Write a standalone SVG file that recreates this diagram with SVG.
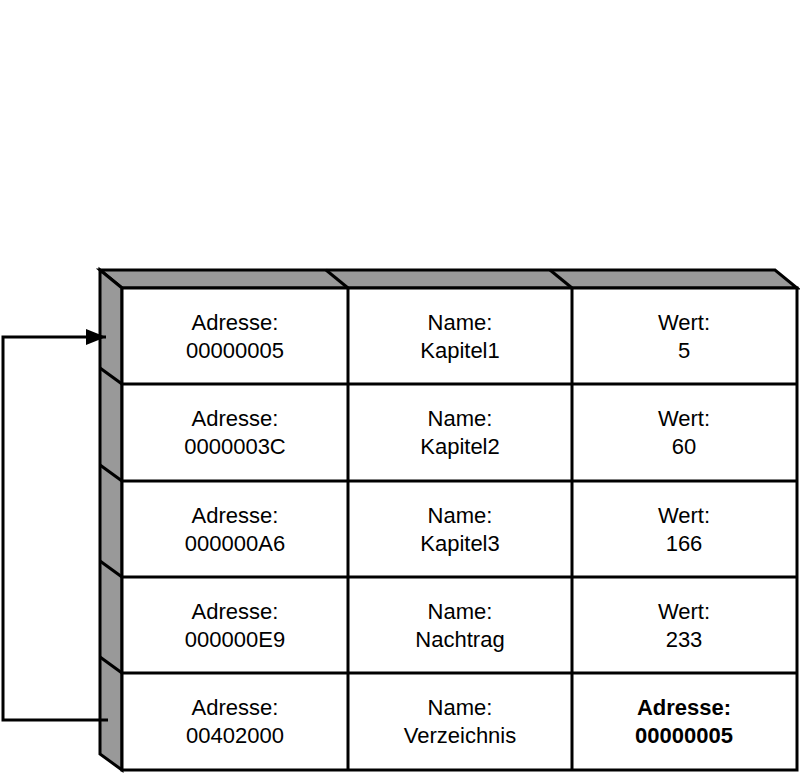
<svg xmlns="http://www.w3.org/2000/svg" width="800" height="778" viewBox="0 0 800 778">
<style>
.face{fill:#999999;stroke:#000;stroke-width:3;stroke-linejoin:miter}
.front{fill:#fff;stroke:#000;stroke-width:3}
.ln{stroke:#000;stroke-width:3;fill:none}
text{font-family:"Liberation Sans",Arial,sans-serif;font-size:22px;text-anchor:middle;fill:#000}
.b{font-weight:bold}
</style>
<defs>
<marker id="ah" markerWidth="20" markerHeight="16" viewBox="0 0 20 16" refX="20" refY="8" orient="auto" markerUnits="userSpaceOnUse">
<path d="M0,0 L20,8 L0,16 Z" fill="#000"/>
</marker>
</defs>
<rect width="800" height="778" fill="#fff"/>
<g id="table">
<polygon class="face" points="100,270 775,270 797,288 122,288"/>
<polygon class="face" points="100,270 122,288 122,770 100,754"/>
<rect class="front" x="122" y="288" width="675" height="482"/>
<line class="ln" x1="326" y1="270" x2="348" y2="288"/>
<line class="ln" x1="550" y1="270" x2="572" y2="288"/>
<line class="ln" x1="100" y1="368" x2="122" y2="384"/>
<line class="ln" x1="100" y1="465" x2="122" y2="481"/>
<line class="ln" x1="100" y1="561" x2="122" y2="577"/>
<line class="ln" x1="100" y1="657" x2="122" y2="673"/>
<line class="ln" x1="122" y1="384" x2="797" y2="384"/>
<line class="ln" x1="122" y1="481" x2="797" y2="481"/>
<line class="ln" x1="122" y1="577" x2="797" y2="577"/>
<line class="ln" x1="122" y1="673" x2="797" y2="673"/>
<line class="ln" x1="348" y1="288" x2="348" y2="770"/>
<line class="ln" x1="572" y1="288" x2="572" y2="770"/>
</g>
<g id="row1">
<text x="235" y="330">Adresse:</text><text x="235" y="358">00000005</text>
<text x="460" y="330">Name:</text><text x="460" y="358">Kapitel1</text>
<text x="684" y="330">Wert:</text><text x="684" y="358">5</text>
</g>
<g id="row2">
<text x="235" y="426">Adresse:</text><text x="235" y="454">0000003C</text>
<text x="460" y="426">Name:</text><text x="460" y="454">Kapitel2</text>
<text x="684" y="426">Wert:</text><text x="684" y="454">60</text>
</g>
<g id="row3">
<text x="235" y="523">Adresse:</text><text x="235" y="551">000000A6</text>
<text x="460" y="523">Name:</text><text x="460" y="551">Kapitel3</text>
<text x="684" y="523">Wert:</text><text x="684" y="551">166</text>
</g>
<g id="row4">
<text x="235" y="619">Adresse:</text><text x="235" y="647">000000E9</text>
<text x="460" y="619">Name:</text><text x="460" y="647">Nachtrag</text>
<text x="684" y="619">Wert:</text><text x="684" y="647">233</text>
</g>
<g id="row5">
<text x="235" y="715">Adresse:</text><text x="235" y="743">00402000</text>
<text x="460" y="715">Name:</text><text x="460" y="743">Verzeichnis</text>
<text class="b" x="684" y="715">Adresse:</text><text class="b" x="684" y="743">00000005</text>
</g>
<g id="connectors">
<path class="ln" d="M108,720 H3 V337 H106" marker-end="url(#ah)"/>
</g>
</svg>
